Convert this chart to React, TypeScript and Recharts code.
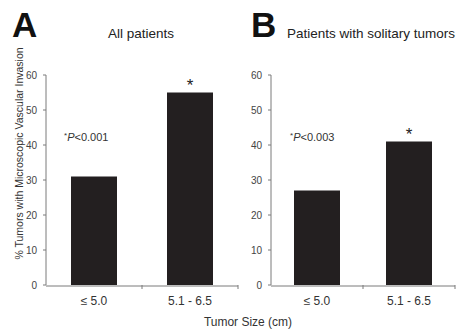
import { ComposedChart, Bar, Line, XAxis, YAxis, LabelList } from 'recharts';

// Tumor size groups and % with microscopic vascular invasion
const sizeGroups = ['≤ 5.0', '5.1 - 6.5'];
const allPatients = [31, 55];
const solitaryTumors = [27, 41];
const significance = ['', '*'];
const yTicks = [0, 10, 20, 30, 40, 50, 60];
const boundaryTicks = [1, 2];

const BAR = '#231f20';
const AXIS = '#7a7a7a';
const FONT = '"Liberation Sans", Arial, sans-serif';

const dataA = sizeGroups.map((g, i) => ({ group: g, value: allPatients[i], mark: significance[i], pos: i + 0.5 }));
const dataB = sizeGroups.map((g, i) => ({ group: g, value: solitaryTumors[i], mark: significance[i], pos: i + 0.5 }));

function Panel({ data, width, right }: { data: typeof dataA; width: number; right: number }) {
  return (
    <ComposedChart width={width} height={331} data={data} margin={{ top: 75, right, left: 0, bottom: 15 }} barCategoryGap={0}>
      {/* tick marks between the categories */}
      <XAxis
        xAxisId="bounds"
        type="number"
        dataKey="pos"
        domain={[0, 2]}
        allowDataOverflow
        ticks={boundaryTicks}
        tick={() => <g />}
        tickSize={4}
        axisLine={false}
        tickLine={{ stroke: AXIS }}
        height={1}
      />
      <XAxis
        xAxisId="cat"
        dataKey="group"
        tickLine={false}
        tickSize={5}
        tickMargin={5}
        axisLine={{ stroke: AXIS }}
        tick={{ fill: '#333', fontSize: 12, fontFamily: FONT }}
        height={30}
      />
      <YAxis
        domain={[0, 60]}
        ticks={yTicks}
        width={46}
        tickSize={3}
        tickMargin={6}
        axisLine={{ stroke: AXIS }}
        tickLine={{ stroke: AXIS }}
        tick={{ fill: '#444', fontSize: 10, fontFamily: FONT }}
      />
      <Bar xAxisId="cat" dataKey="value" fill={BAR} barSize={46} isAnimationActive={false}>
        <LabelList dataKey="mark" position="top" offset={2} fill="#222" fontSize={17} fontFamily={FONT} />
      </Bar>
      <Line xAxisId="bounds" dataKey="value" stroke="none" dot={false} activeDot={false} isAnimationActive={false} />
    </ComposedChart>
  );
}

export default function App() {
  return (
    <div style={{ position: 'absolute', left: 0, top: 0, width: 459, height: 331, background: '#fff', overflow: 'hidden' }}>
      <div style={{ position: 'absolute', left: 0, top: 0 }}>
        <Panel data={dataA} width={240} right={2} />
      </div>
      <div style={{ position: 'absolute', left: 225, top: 0 }}>
        <Panel data={dataB} width={234} right={4} />
      </div>
      <svg width={459} height={331} style={{ position: 'absolute', left: 0, top: 0, pointerEvents: 'none' }} fontFamily={FONT}>
        <text x={12} y={37} fontSize={35} fontWeight="bold" fill="#111">A</text>
        <text x={251} y={37} fontSize={35} fontWeight="bold" fill="#111">B</text>
        <text x={108} y={38} fontSize={13.5} fill="#222">All patients</text>
        <text x={287} y={37.5} fontSize={13.5} fill="#222">Patients with solitary tumors</text>
        <text x={64} y={140.5} fontSize={11} fill="#333">
          <tspan fontSize={8} dy={-3}>*</tspan>
          <tspan fontStyle="italic" dy={3}>P</tspan>
          <tspan>&lt;0.001</tspan>
        </text>
        <text x={290} y={140.5} fontSize={11} fill="#333">
          <tspan fontSize={8} dy={-3}>*</tspan>
          <tspan fontStyle="italic" dy={3}>P</tspan>
          <tspan>&lt;0.003</tspan>
        </text>
        <text x={248} y={326} fontSize={12} fill="#333" textAnchor="middle">Tumor Size (cm)</text>
        <text transform="translate(22.5,153.5) rotate(-90)" fontSize={10.5} fill="#333" textAnchor="middle">
          % Tumors with Microscopic Vascular Invasion
        </text>
      </svg>
    </div>
  );
}
